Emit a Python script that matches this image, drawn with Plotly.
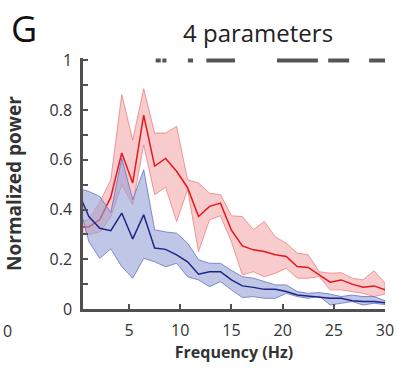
import plotly.graph_objects as go

# Frequency bins (Hz)
freq = [k * 30 / 28 for k in range(29)]

# Group 1 (red): mean and band limits
red_mean = [0.33, 0.33, 0.36, 0.45, 0.628, 0.507, 0.78, 0.575, 0.606, 0.554,
            0.488, 0.372, 0.413, 0.426, 0.317, 0.254, 0.238, 0.231, 0.218, 0.211,
            0.171, 0.167, 0.137, 0.108, 0.117, 0.100, 0.088, 0.093, 0.077]
red_upper = [0.35, 0.36, 0.43, 0.52, 0.863, 0.68, 0.886, 0.708, 0.708, 0.735,
             0.52, 0.507, 0.466, 0.46, 0.375, 0.372, 0.319, 0.352, 0.29, 0.265,
             0.225, 0.218, 0.15, 0.144, 0.146, 0.124, 0.117, 0.154, 0.104]
red_lower = [0.31, 0.30, 0.31, 0.37, 0.50, 0.42, 0.66, 0.46, 0.49, 0.352,
             0.48, 0.231, 0.359, 0.375, 0.27, 0.137, 0.15, 0.13, 0.144, 0.164,
             0.124, 0.124, 0.13, 0.077, 0.077, 0.07, 0.063, 0.05, 0.06]

# Group 2 (blue): mean and band limits
blue_mean = [0.473, 0.372, 0.325, 0.315, 0.386, 0.282, 0.379, 0.245, 0.24, 0.218,
             0.19, 0.14, 0.15, 0.15, 0.117, 0.093, 0.087, 0.079, 0.079, 0.07,
             0.056, 0.052, 0.05, 0.043, 0.043, 0.033, 0.03, 0.03, 0.025]
blue_upper = [0.486, 0.473, 0.453, 0.388, 0.607, 0.44, 0.56, 0.319, 0.31, 0.305,
              0.265, 0.198, 0.184, 0.184, 0.155, 0.13, 0.124, 0.11, 0.097, 0.097,
              0.07, 0.063, 0.066, 0.06, 0.05, 0.056, 0.05, 0.05, 0.033]
blue_lower = [0.436, 0.271, 0.204, 0.242, 0.17, 0.124, 0.204, 0.19, 0.17, 0.184,
              0.13, 0.117, 0.09, 0.11, 0.077, 0.046, 0.05, 0.043, 0.043, 0.063,
              0.05, 0.043, 0.052, 0.016, 0.023, 0.03, 0.016, 0.023, 0.018]

# Frequency ranges marked as significant (Hz)
sig_ranges = [(7.6, 8.1), (8.25, 8.65), (10.75, 11.25), (12.55, 15.35),
              (19.45, 23.45), (24.45, 26.5), (28.45, 30.4)]
sig_level = 1.0

x_ticks = [5, 10, 15, 20, 25, 30]
y_ticks = [0, 0.2, 0.4, 0.6, 0.8, 1]
y_tick_text = ["0", "0.2", "0.4", "0.6", "0.8", "1"]

AXIS_GREY = "#505050"
TEXT_GREY = "#333333"

fig = go.Figure()


def band(lower, upper, fill, edge):
    return go.Scatter(
        x=freq + freq[::-1], y=upper + lower[::-1], fill="toself",
        fillcolor=fill, line=dict(color=edge, width=1),
        mode="lines", hoverinfo="skip", showlegend=False)


fig.add_trace(band(red_lower, red_upper, "rgba(236,110,110,0.35)", "rgba(238,120,120,0.75)"))
fig.add_trace(go.Scatter(x=freq, y=red_mean, mode="lines",
                         line=dict(color="#e8141c", width=1.5), showlegend=False))
fig.add_trace(band(blue_lower, blue_upper, "rgba(150,160,213,0.6)", "rgba(100,115,200,0.8)"))
fig.add_trace(go.Scatter(x=freq, y=blue_mean, mode="lines",
                         line=dict(color="#1c2586", width=1.5), showlegend=False))

for a, b in sig_ranges:
    fig.add_trace(go.Scatter(x=[a, b], y=[sig_level, sig_level], mode="lines",
                             line=dict(color="#555555", width=4), showlegend=False))

fig.update_layout(
    width=397, height=369,
    margin=dict(l=83, r=12, t=58, b=60),
    paper_bgcolor="white", plot_bgcolor="white",
    font=dict(family="Open Sans", color=TEXT_GREY),
    xaxis=dict(range=[0.5, 30], tickvals=x_ticks, ticks="inside", ticklen=5,
               tickwidth=2, tickcolor=AXIS_GREY, showline=True, linewidth=2.5,
               linecolor=AXIS_GREY, showgrid=False, zeroline=False,
               automargin=False, ticklabelstandoff=5,
               tickfont=dict(size=16, color=TEXT_GREY),
               title=dict(text="<b>Frequency (Hz)</b>", standoff=7,
                          font=dict(family="Open Sans", size=16, color=TEXT_GREY))),
    yaxis=dict(range=[0, 1.01], tickvals=y_ticks, ticktext=y_tick_text,
               ticks="inside", ticklen=5, tickwidth=2, tickcolor=AXIS_GREY,
               minor=dict(dtick=0.1, ticks="inside", ticklen=5, tickwidth=2,
                          tickcolor=AXIS_GREY),
               showline=True, linewidth=2.5, linecolor=AXIS_GREY,
               showgrid=False, zeroline=False, automargin=False,
               ticklabelstandoff=5,
               tickfont=dict(size=16, color=TEXT_GREY),
               title=dict(text="<b>Normalized power</b>", standoff=23,
                          font=dict(family="Open Sans", size=19, color=TEXT_GREY))),
    annotations=[
        dict(text="4 parameters", xref="paper", yref="paper", x=0.58, y=1.0,
             yshift=26, showarrow=False, xanchor="center", yanchor="middle",
             font=dict(family="Open Sans", size=24, color="#222222")),
        dict(text="G", xref="paper", yref="paper", x=-0.245, y=1.0, yshift=30,
             xanchor="left", yanchor="middle", showarrow=False,
             font=dict(family="Open Sans", size=36, color="#111111")),
        dict(text="0", xref="paper", yref="paper", x=-0.272, y=0, yshift=-22,
             xanchor="left", yanchor="middle", showarrow=False,
             font=dict(family="Open Sans", size=16, color=TEXT_GREY)),
    ],
)

fig.write_html("out.html")
